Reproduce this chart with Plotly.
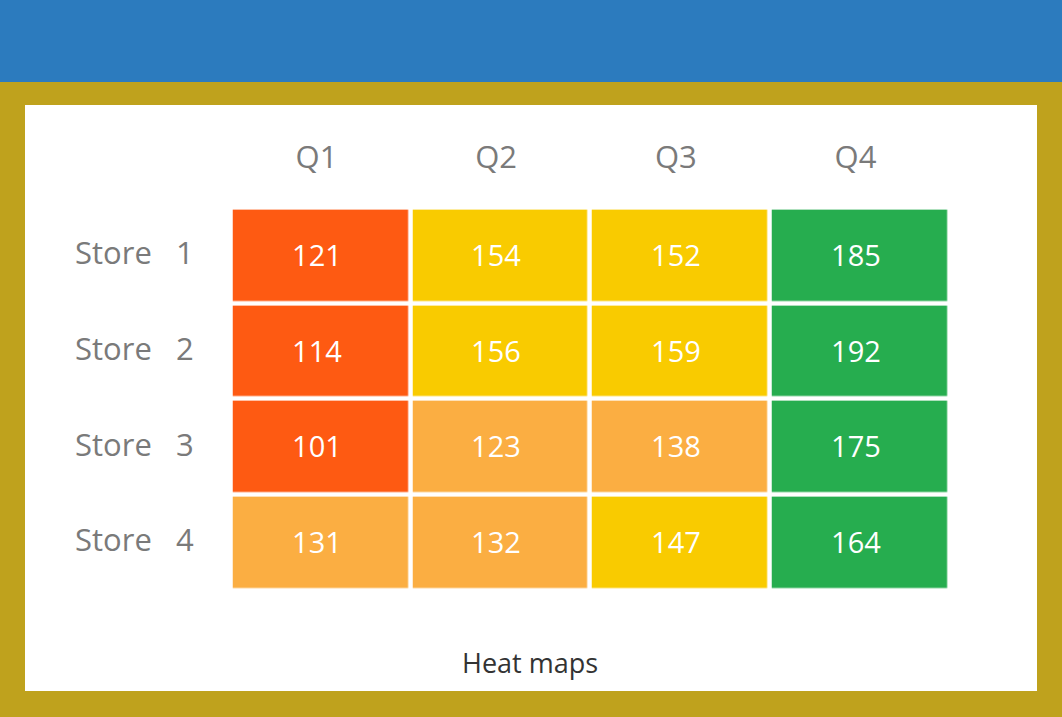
import plotly.graph_objects as go

W, H = 1062, 717

quarters = ["Q1", "Q2", "Q3", "Q4"]
stores = ["Store\u00a0\u00a0 1", "Store\u00a0\u00a0 2", "Store\u00a0\u00a0 3", "Store\u00a0\u00a0 4"]
q1 = [121, 114, 101, 131]
q2 = [154, 156, 123, 132]
q3 = [152, 159, 138, 147]
q4 = [185, 192, 175, 164]

z = [[q1[i], q2[i], q3[i], q4[i]] for i in range(len(stores))]

RED = "#FE5A12"
LORANGE = "#FBAE42"
YELLOW = "#F9CB00"
GREEN = "#26AD4F"
zmin, zmax = 100, 200
def f(v):
    return (v - zmin) / (zmax - zmin)
colorscale = [
    [0, RED], [f(122), RED],
    [f(122), LORANGE], [f(142), LORANGE],
    [f(142), YELLOW], [f(162), YELLOW],
    [f(162), GREEN], [1, GREEN],
]

fig = go.Figure(go.Heatmap(
    x=quarters, y=stores, z=z,
    zmin=zmin, zmax=zmax, colorscale=colorscale, showscale=False,
    xgap=4.6, ygap=4.6,
    text=z, texttemplate="%{text}\u00a0",
    textfont=dict(family="Open Sans", size=29, color="white"),
    hoverinfo="skip",
))

def px(x):
    return x / W
def py(y):
    return 1 - y / H

shapes = [
    dict(type="rect", xref="paper", yref="paper", x0=0, x1=1, y0=py(82), y1=1,
         fillcolor="#2C7BBE", line_width=0, layer="below"),
    dict(type="rect", xref="paper", yref="paper", x0=px(25), x1=px(1037), y0=py(691), y1=py(105),
         fillcolor="white", line_width=0, layer="below"),
]

fig.update_layout(
    width=W, height=H,
    margin=dict(l=0, r=0, t=0, b=0),
    paper_bgcolor="#BFA21D",
    plot_bgcolor="white",
    shapes=shapes,
    showlegend=False,
    font=dict(family="Open Sans", color="#7A7A7A"),
    xaxis=dict(domain=[px(230.7), px(949.3)], side="top", showgrid=False, zeroline=False,
               showline=False, ticks="", tickfont=dict(size=31, color="#7A7A7A"),
               ticklabelstandoff=32, ticklabelshift=-4, fixedrange=True),
    yaxis=dict(domain=[py(590.3), py(207.6)], autorange="reversed", showgrid=False,
               zeroline=False, showline=False, ticks="", tickfont=dict(size=31, color="#7A7A7A"),
               ticklabelstandoff=36, ticklabelshift=2, fixedrange=True),
    annotations=[dict(text="Heat maps", xref="paper", yref="paper", x=px(530), y=py(662),
                      showarrow=False, font=dict(family="Open Sans", size=27, color="#333333"),
                      xanchor="center", yanchor="middle")],
)

fig.write_html("out.html", config={"displayModeBar": False},
               post_script="document.body.style.margin='0';document.body.style.overflow='hidden';")
